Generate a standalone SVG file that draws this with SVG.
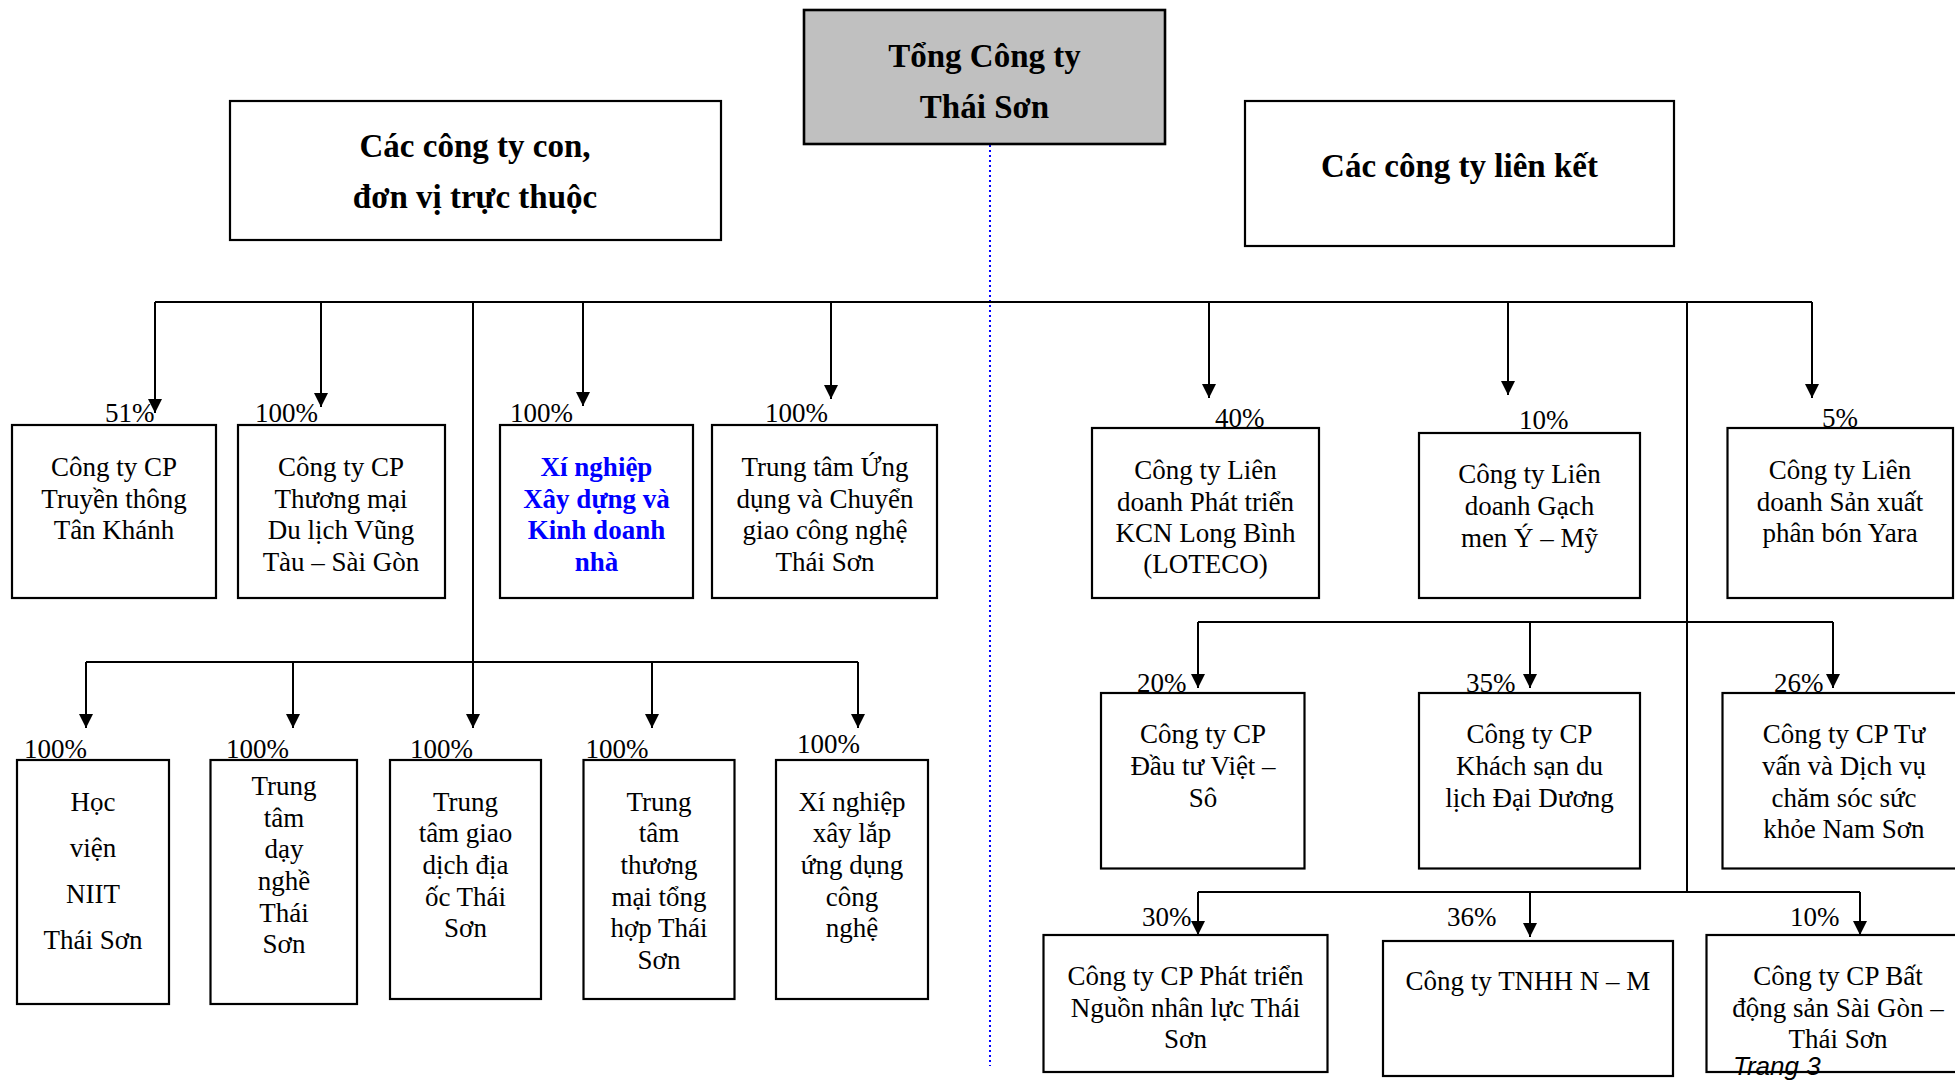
<svg xmlns="http://www.w3.org/2000/svg" width="1955" height="1081" viewBox="0 0 1955 1081">
<style>
.box{fill:#ffffff;stroke:#000;stroke-width:2.2}
.top{fill:#c0c0c0;stroke:#000;stroke-width:2.6}
.t{font-family:"Liberation Serif","Times New Roman",serif;font-size:27px;fill:#000;text-anchor:middle}
.b{font-family:"Liberation Serif","Times New Roman",serif;font-size:27px;font-weight:bold;fill:#0000ff;text-anchor:middle}
.h{font-family:"Liberation Serif","Times New Roman",serif;font-size:33px;font-weight:bold;fill:#000;text-anchor:middle}
.p{font-family:"Liberation Serif","Times New Roman",serif;font-size:27px;fill:#000}
.c{fill:none;stroke:#000;stroke-width:2}
.a{fill:none;stroke:#000;stroke-width:2;marker-end:url(#arr)}
.dot{fill:none;stroke:#0000ff;stroke-width:2;stroke-dasharray:2 3}
.pg{font-family:"Liberation Sans",Arial,sans-serif;font-size:26px;font-style:italic;fill:#000}
</style>
<defs>
<marker id="arr" markerUnits="userSpaceOnUse" markerWidth="14" markerHeight="14" viewBox="0 0 14 14" refX="14" refY="7" orient="auto">
<path d="M0,0 L14,7 L0,14 z" fill="#000"/>
</marker>
</defs>
<rect width="1955" height="1081" fill="#fff"/>

<g id="connectors">
<line class="dot" x1="990" y1="145" x2="990" y2="1066"/>
<line class="c" x1="155" y1="302" x2="1812" y2="302"/>
<line class="a" x1="155" y1="302" x2="155" y2="413"/>
<line class="a" x1="321" y1="302" x2="321" y2="407"/>
<line class="a" x1="473" y1="302" x2="473" y2="728"/>
<line class="a" x1="583" y1="302" x2="583" y2="406"/>
<line class="a" x1="831" y1="302" x2="831" y2="399"/>
<line class="a" x1="1209" y1="302" x2="1209" y2="398"/>
<line class="a" x1="1508" y1="302" x2="1508" y2="395"/>
<line class="a" x1="1812" y1="302" x2="1812" y2="398"/>
<line class="c" x1="1687" y1="302" x2="1687" y2="892"/>
<line class="c" x1="86" y1="662" x2="858" y2="662"/>
<line class="a" x1="86" y1="662" x2="86" y2="728"/>
<line class="a" x1="293" y1="662" x2="293" y2="728"/>
<line class="a" x1="652" y1="662" x2="652" y2="728"/>
<line class="a" x1="858" y1="662" x2="858" y2="728"/>
<line class="c" x1="1198" y1="622" x2="1833" y2="622"/>
<line class="a" x1="1198" y1="622" x2="1198" y2="688"/>
<line class="a" x1="1530" y1="622" x2="1530" y2="688"/>
<line class="a" x1="1833" y1="622" x2="1833" y2="688"/>
<line class="c" x1="1198" y1="892" x2="1860" y2="892"/>
<line class="a" x1="1198" y1="892" x2="1198" y2="935"/>
<line class="a" x1="1530" y1="892" x2="1530" y2="937"/>
<line class="a" x1="1860" y1="892" x2="1860" y2="935"/>
</g>

<g id="n-root">
<rect class="top" x="804" y="10" width="361" height="134"/>
<text class="h" x="984.5" y="67">Tổng Công ty</text>
<text class="h" x="984.5" y="118">Thái Sơn</text>
</g>
<g id="n-subs">
<rect class="box" x="230" y="101" width="491" height="139"/>
<text class="h" x="475" y="157">Các công ty con,</text>
<text class="h" x="475" y="208">đơn vị trực thuộc</text>
</g>
<g id="n-assoc">
<rect class="box" x="1245" y="101" width="429" height="145"/>
<text class="h" x="1459.5" y="177">Các công ty liên kết</text>
</g>

<g id="n-a">
<rect class="box" x="12" y="425" width="204" height="173"/>
<text class="p" x="105" y="422">51%</text>
<text class="t" x="114" y="476">Công ty CP</text>
<text class="t" x="114" y="508">Truyền thông</text>
<text class="t" x="114" y="539">Tân Khánh</text>
</g>
<g id="n-b">
<rect class="box" x="238" y="425" width="207" height="173"/>
<text class="p" x="255" y="422">100%</text>
<text class="t" x="341" y="476">Công ty CP</text>
<text class="t" x="341" y="508">Thương mại</text>
<text class="t" x="341" y="539">Du lịch Vũng</text>
<text class="t" x="341" y="571">Tàu – Sài Gòn</text>
</g>
<g id="n-c">
<rect class="box" x="500" y="425" width="193" height="173"/>
<text class="p" x="510" y="422">100%</text>
<text class="b" x="596.5" y="476">Xí nghiệp</text>
<text class="b" x="596.5" y="508">Xây dựng và</text>
<text class="b" x="596.5" y="539">Kinh doanh</text>
<text class="b" x="596.5" y="571">nhà</text>
</g>
<g id="n-d">
<rect class="box" x="712" y="425" width="225" height="173"/>
<text class="p" x="765" y="422">100%</text>
<text class="t" x="825" y="476">Trung tâm Ứng</text>
<text class="t" x="825" y="508">dụng và Chuyển</text>
<text class="t" x="825" y="539">giao công nghệ</text>
<text class="t" x="825" y="571">Thái Sơn</text>
</g>
<g id="n-e">
<rect class="box" x="1092" y="428" width="227" height="170"/>
<text class="p" x="1215" y="427">40%</text>
<text class="t" x="1205.5" y="479">Công ty Liên</text>
<text class="t" x="1205.5" y="511">doanh Phát triển</text>
<text class="t" x="1205.5" y="542">KCN Long Bình</text>
<text class="t" x="1205.5" y="573">(LOTECO)</text>
</g>
<g id="n-f">
<rect class="box" x="1419" y="433" width="221" height="165"/>
<text class="p" x="1519" y="429">10%</text>
<text class="t" x="1529.5" y="483">Công ty Liên</text>
<text class="t" x="1529.5" y="515">doanh Gạch</text>
<text class="t" x="1529.5" y="547">men Ý – Mỹ</text>
</g>
<g id="n-g">
<rect class="box" x="1727.5" y="428" width="225.5" height="170"/>
<text class="p" x="1822" y="427">5%</text>
<text class="t" x="1840" y="479">Công ty Liên</text>
<text class="t" x="1840" y="511">doanh Sản xuất</text>
<text class="t" x="1840" y="542">phân bón Yara</text>
</g>

<g id="n-h">
<rect class="box" x="17" y="760" width="152" height="244"/>
<text class="p" x="24" y="758">100%</text>
<text class="t" x="93" y="811">Học</text>
<text class="t" x="93" y="857">viện</text>
<text class="t" x="93" y="903">NIIT</text>
<text class="t" x="93" y="949">Thái Sơn</text>
</g>
<g id="n-i">
<rect class="box" x="210.5" y="760" width="146.5" height="244"/>
<text class="p" x="226" y="758">100%</text>
<text class="t" x="284" y="795">Trung</text>
<text class="t" x="284" y="827">tâm</text>
<text class="t" x="284" y="858">dạy</text>
<text class="t" x="284" y="890">nghề</text>
<text class="t" x="284" y="922">Thái</text>
<text class="t" x="284" y="953">Sơn</text>
</g>
<g id="n-j">
<rect class="box" x="390" y="760" width="151" height="239"/>
<text class="p" x="410" y="758">100%</text>
<text class="t" x="465.5" y="811">Trung</text>
<text class="t" x="465.5" y="842">tâm giao</text>
<text class="t" x="465.5" y="874">dịch địa</text>
<text class="t" x="465.5" y="906">ốc Thái</text>
<text class="t" x="465.5" y="937">Sơn</text>
</g>
<g id="n-k">
<rect class="box" x="583.5" y="760" width="151" height="239"/>
<text class="p" x="585.5" y="758">100%</text>
<text class="t" x="659" y="811">Trung</text>
<text class="t" x="659" y="842">tâm</text>
<text class="t" x="659" y="874">thương</text>
<text class="t" x="659" y="906">mại tổng</text>
<text class="t" x="659" y="937">hợp Thái</text>
<text class="t" x="659" y="969">Sơn</text>
</g>
<g id="n-l">
<rect class="box" x="776" y="760" width="152" height="239"/>
<text class="p" x="797" y="753">100%</text>
<text class="t" x="852" y="811">Xí nghiệp</text>
<text class="t" x="852" y="842">xây lắp</text>
<text class="t" x="852" y="874">ứng dụng</text>
<text class="t" x="852" y="906">công</text>
<text class="t" x="852" y="937">nghệ</text>
</g>

<g id="n-m">
<rect class="box" x="1101" y="693" width="203.5" height="175.5"/>
<text class="p" x="1137" y="692">20%</text>
<text class="t" x="1203" y="743">Công ty CP</text>
<text class="t" x="1203" y="775">Đầu tư Việt –</text>
<text class="t" x="1203" y="807">Sô</text>
</g>
<g id="n-n">
<rect class="box" x="1419" y="693" width="221" height="175.5"/>
<text class="p" x="1466" y="692">35%</text>
<text class="t" x="1529.5" y="743">Công ty CP</text>
<text class="t" x="1529.5" y="775">Khách sạn du</text>
<text class="t" x="1529.5" y="807">lịch Đại Dương</text>
</g>
<g id="n-o">
<rect class="box" x="1722.5" y="693" width="245" height="175.5"/>
<text class="p" x="1774" y="692">26%</text>
<text class="t" x="1844" y="743">Công ty CP Tư</text>
<text class="t" x="1844" y="775">vấn và Dịch vụ</text>
<text class="t" x="1844" y="807">chăm sóc sức</text>
<text class="t" x="1844" y="838">khỏe Nam Sơn</text>
</g>

<g id="n-p">
<rect class="box" x="1043.5" y="935" width="284" height="137"/>
<text class="p" x="1142" y="926">30%</text>
<text class="t" x="1185.5" y="985">Công ty CP Phát triển</text>
<text class="t" x="1185.5" y="1017">Nguồn nhân lực Thái</text>
<text class="t" x="1185.5" y="1048">Sơn</text>
</g>
<g id="n-q">
<rect class="box" x="1383" y="941" width="290" height="135"/>
<text class="p" x="1447" y="926">36%</text>
<text class="t" x="1528" y="990">Công ty TNHH N – M</text>
</g>
<g id="n-r">
<rect class="box" x="1706.5" y="935" width="265" height="137"/>
<text class="p" x="1790" y="926">10%</text>
<text class="t" x="1838" y="985">Công ty CP Bất</text>
<text class="t" x="1838" y="1017">động sản Sài Gòn –</text>
<text class="t" x="1838" y="1048">Thái Sơn</text>
</g>

<text class="pg" x="1733" y="1075">Trang 3</text>
</svg>
